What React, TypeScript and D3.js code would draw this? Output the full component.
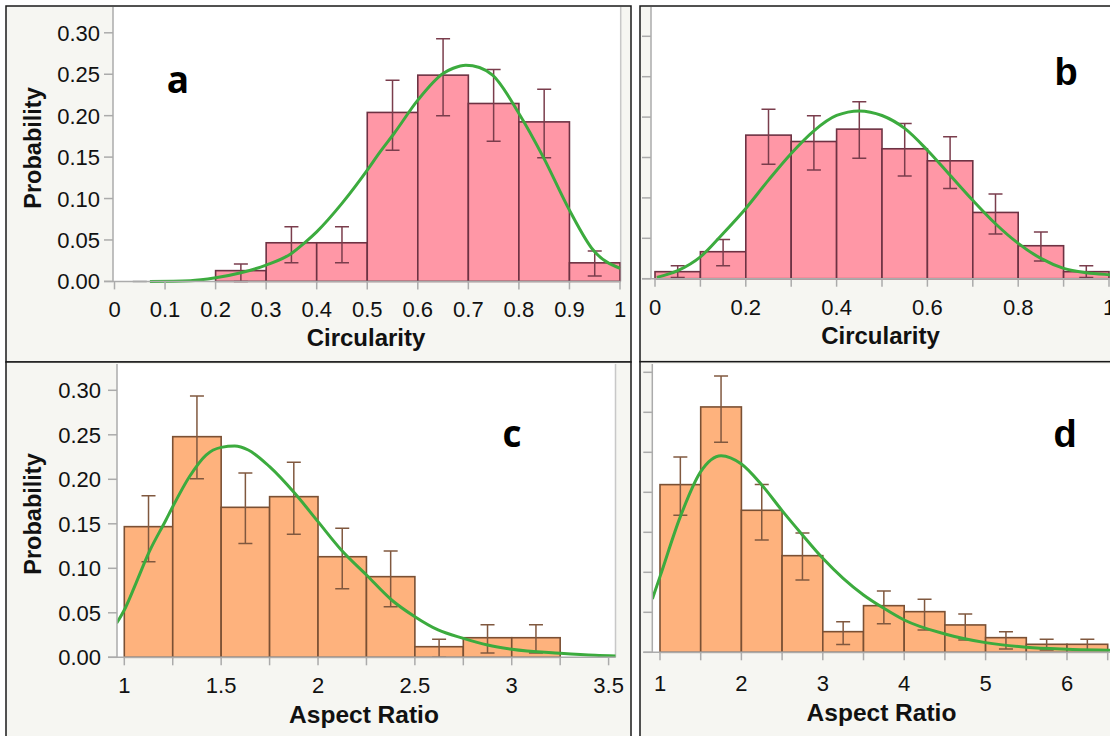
import React from 'react';
import * as d3 from 'd3';

const FONT = '"Liberation Sans", Arial, Helvetica, sans-serif';
const LETTER_FONT_AC = '"Open Sans", "Liberation Sans", Arial, sans-serif';

// ---------- Panel a : Circularity ----------
const aBinStarts = [0, 0.1, 0.2, 0.3, 0.4, 0.5, 0.6, 0.7, 0.8, 0.9];
const aProb = [0, 0, 0.013, 0.0466, 0.0466, 0.2039, 0.2489, 0.2147, 0.1925, 0.0224];
const aErrHi = [0, null, 0.0209, 0.0659, 0.0659, 0.2428, 0.2928, 0.2557, 0.232, 0.0366];
const aErrLo = [0, null, 0, 0.0225, 0.0225, 0.1584, 0.1998, 0.1692, 0.1491, 0.0064];
const aFitX = [0.07, 0.15, 0.2, 0.25, 0.3, 0.35, 0.376, 0.4, 0.45, 0.5, 0.525, 0.553, 0.6, 0.65, 0.67, 0.695, 0.722, 0.748, 0.8, 0.848, 0.9, 0.947, 1.0];
const aFitY = [0, 0.0008, 0.0043, 0.0104, 0.0197, 0.0338, 0.0466, 0.0598, 0.0941, 0.1342, 0.156, 0.1785, 0.2187, 0.2509, 0.2572, 0.2609, 0.2581, 0.2489, 0.2027, 0.1503, 0.086, 0.0378, 0.0157];
const aXTicks = [0, 0.1, 0.2, 0.3, 0.4, 0.5, 0.6, 0.7, 0.8, 0.9, 1];
const aXLabels = ['0', '0.1', '0.2', '0.3', '0.4', '0.5', '0.6', '0.7', '0.8', '0.9', '1'];

// ---------- Panel b : Circularity ----------
const bBinStarts = [0, 0.1, 0.2, 0.3, 0.4, 0.5, 0.6, 0.7, 0.8, 0.9];
const bProb = [0.0087, 0.0334, 0.1777, 0.1698, 0.1851, 0.1608, 0.1459, 0.082, 0.0408, 0.0087];
const bErrHi = [0.016, 0.0486, 0.2098, 0.2016, 0.2189, 0.1921, 0.1756, 0.1047, 0.0577, 0.016];
const bErrLo = [0.0015, 0.016, 0.1418, 0.1344, 0.1492, 0.127, 0.1117, 0.0552, 0.0218, 0.0015];
const bFitX = [0.004, 0.05, 0.1, 0.15, 0.2, 0.25, 0.3, 0.35, 0.4, 0.45, 0.5, 0.55, 0.6, 0.65, 0.7, 0.75, 0.8, 0.85, 0.9, 0.95, 1.0, 1.03];
const bFitY = [0.0016, 0.0099, 0.027, 0.056, 0.087, 0.122, 0.155, 0.183, 0.202, 0.2077, 0.202, 0.186, 0.159, 0.128, 0.097, 0.068, 0.0437, 0.0251, 0.0128, 0.0074, 0.005, 0.004];
const bXTicks = [0, 0.1, 0.2, 0.3, 0.4, 0.5, 0.6, 0.7, 0.8, 0.9, 1];
const bXLabels = ['0', '', '0.2', '', '0.4', '', '0.6', '', '0.8', '', '1'];

// ---------- Panel c : Aspect Ratio ----------
const cBinStarts = [1.0, 1.25, 1.5, 1.75, 2.0, 2.25, 2.5, 2.75, 3.0];
const cProb = [0.1468, 0.2479, 0.1685, 0.1805, 0.113, 0.0906, 0.0119, 0.022, 0.022];
const cErrHi = [0.1816, 0.2936, 0.2071, 0.2191, 0.1449, 0.1194, 0.0202, 0.0366, 0.0366];
const cErrLo = [0.1074, 0.2007, 0.128, 0.1382, 0.0771, 0.0569, 0, 0.0048, 0.0048];
const cFitX = [0.96, 1.0, 1.06, 1.129, 1.215, 1.25, 1.336, 1.422, 1.5, 1.57, 1.64, 1.75, 1.88, 2.0, 2.12, 2.25, 2.38, 2.5, 2.62, 2.75, 2.875, 3.0, 3.25, 3.43, 3.55];
const cFitY = [0.0382, 0.0531, 0.0831, 0.1187, 0.1543, 0.1692, 0.2029, 0.2273, 0.2359, 0.2374, 0.2329, 0.2142, 0.1843, 0.1524, 0.1206, 0.0925, 0.0644, 0.0456, 0.0307, 0.0213, 0.0138, 0.009, 0.0045, 0.0022, 0.0015];
const cXTicks = [1, 1.25, 1.5, 1.75, 2, 2.25, 2.5, 2.75, 3, 3.25, 3.5];
const cXLabels = ['1', '', '1.5', '', '2', '', '2.5', '', '3', '', '3.5'];

// ---------- Panel d : Aspect Ratio ----------
const dBinStarts = [1.0, 1.5, 2.0, 2.5, 3.0, 3.5, 4.0, 4.5, 5.0, 5.5, 6.0];
const dProb = [0.2096, 0.3067, 0.1775, 0.1208, 0.0258, 0.0583, 0.0508, 0.0342, 0.0183, 0.01, 0.01];
const dErrHi = [0.2442, 0.3454, 0.2096, 0.1492, 0.0383, 0.0767, 0.0663, 0.0479, 0.0258, 0.0163, 0.0163];
const dErrLo = [0.1713, 0.2625, 0.1404, 0.0904, 0.0096, 0.0358, 0.0279, 0.0154, 0.0042, 0.003, 0.003];
const dFitX = [0.906, 1.0, 1.25, 1.5, 1.75, 2.0, 2.25, 2.5, 2.75, 3.0, 3.25, 3.5, 3.75, 4.0, 4.5, 5.0, 5.5, 6.0, 6.5, 7.0];
const dFitY = [0.0667, 0.0946, 0.1696, 0.2258, 0.2458, 0.2354, 0.2092, 0.1771, 0.1467, 0.1175, 0.0925, 0.0717, 0.055, 0.0404, 0.0229, 0.0121, 0.0063, 0.0038, 0.0025, 0.0015];
const dXTicks = [1, 1.5, 2, 2.5, 3, 3.5, 4, 4.5, 5, 5.5, 6, 6.5];
const dXLabels = ['1', '', '2', '', '3', '', '4', '', '5', '', '6', ''];

const probTicks = [0, 0.05, 0.1, 0.15, 0.2, 0.25, 0.3];
const probTicksD = [0, 0.05, 0.1, 0.15, 0.2, 0.25, 0.3, 0.35];

const PINK = { fill: '#ff97a6', stroke: '#6d3243', err: '#7a3d4c' };
const ORANGE = { fill: '#feb27d', stroke: '#7a5034', err: '#80583f' };
const GREEN = '#3cab3e';
const PANEL_BG = '#f6f6f2';
const AXIS = '#ababab';

type Spec = {
  id: string;
  frame: [number, number, number, number];
  plot: [number, number, number, number];
  xDomain: [number, number];
  xRange: [number, number];
  yDomain: [number, number];
  yRange: [number, number];
  binStarts: number[];
  binWidth: number;
  prob: number[];
  errHi: (number | null)[];
  errLo: (number | null)[];
  fitX: number[];
  fitY: number[];
  xTicks: number[];
  xLabels: string[];
  yTicks: number[];
  showYLabels: boolean;
  yLabelRight: number;
  xLabelBaseline: number;
  xTitle: string;
  xTitleX: number;
  xTitleBaseline: number;
  xTitleSize: number;
  yTitleCenter: number;
  color: { fill: string; stroke: string; err: string };
  letter: string;
  letterX: number;
  letterY: number;
  letterFont: string;
  letterSize: number;
  showRightBorder: boolean;
};

function Panel({ s }: { s: Spec }) {
  const x = d3.scaleLinear().domain(s.xDomain).range(s.xRange);
  const y = d3.scaleLinear().domain(s.yDomain).range(s.yRange);
  const base = y(0);
  const [pl, pt, pr, pb] = s.plot;
  const [fl, ft, fr, fb] = s.frame;
  const line = d3
    .line<number>()
    .x((_d, i) => x(s.fitX[i]))
    .y((d) => y(d))
    .curve(d3.curveMonotoneX);
  const clipId = `clip-${s.id}`;
  const capHalf = 7;
  return (
    <g>
      <rect x={fl} y={ft} width={fr - fl} height={fb - ft} fill={PANEL_BG} stroke="#1a1a1a" strokeWidth={1.5} />
      <rect x={pl} y={pt} width={pr - pl} height={pb - pt} fill="#ffffff" />
      <defs>
        <clipPath id={clipId}>
          <rect x={pl} y={pt} width={pr - pl} height={pb - pt + 2} />
        </clipPath>
      </defs>
      {s.showRightBorder && <line x1={pr} x2={pr} y1={pt} y2={pb} stroke="#c8c8c8" strokeWidth={1.5} />}
      {s.yTicks.map((t) => (
        <g key={`yt${t}`}>
          <line x1={pl - 9} x2={pl} y1={y(t)} y2={y(t)} stroke={AXIS} strokeWidth={1.5} />
          {s.showYLabels && (
            <text x={s.yLabelRight} y={y(t) + 8} textAnchor="end" fontFamily={FONT} fontSize={22} fill="#111">
              {d3.format('.2f')(t)}
            </text>
          )}
        </g>
      ))}
      <g clipPath={`url(#${clipId})`}>
        {s.binStarts.map((b, i) =>
          s.prob[i] > 0 ? (
            <rect
              key={`bar${i}`}
              x={x(b)}
              y={y(s.prob[i])}
              width={x(b + s.binWidth) - x(b)}
              height={base - y(s.prob[i])}
              fill={s.color.fill}
              stroke={s.color.stroke}
              strokeWidth={1.6}
            />
          ) : null
        )}
        {s.binStarts.map((b, i) => {
          const hi = s.errHi[i];
          const lo = s.errLo[i];
          if (hi === null || lo === null) return null;
          const cx = x(b + s.binWidth / 2);
          const col = hi === 0 ? '#b5b5b5' : s.color.err;
          return (
            <g key={`err${i}`} stroke={col} strokeWidth={1.5}>
              <line x1={cx} x2={cx} y1={y(hi)} y2={y(lo)} />
              <line x1={cx - capHalf} x2={cx + capHalf} y1={y(hi)} y2={y(hi)} />
              <line x1={cx - capHalf} x2={cx + capHalf} y1={y(lo)} y2={y(lo)} />
            </g>
          );
        })}
        <path d={line(s.fitY) || ''} fill="none" stroke={GREEN} strokeWidth={3} />
      </g>
      <line x1={pl} x2={pl} y1={pt} y2={pb} stroke={AXIS} strokeWidth={1.5} />
      <line x1={pl - 9} x2={pr} y1={base} y2={base} stroke={AXIS} strokeWidth={1.5} />
      {s.xTicks.map((t, i) => (
        <g key={`xt${i}`}>
          <line x1={x(t)} x2={x(t)} y1={base} y2={base + 8} stroke={AXIS} strokeWidth={1.5} />
          {s.xLabels[i] !== '' && (
            <text x={x(t)} y={s.xLabelBaseline} textAnchor="middle" fontFamily={FONT} fontSize={22} fill="#111">
              {s.xLabels[i]}
            </text>
          )}
        </g>
      ))}
      <text x={s.xTitleX} y={s.xTitleBaseline} textAnchor="middle" fontFamily={FONT} fontWeight="bold" fontSize={s.xTitleSize} fill="#111">
        {s.xTitle}
      </text>
      {s.showYLabels && (
        <text
          transform={`translate(40.5, ${s.yTitleCenter}) rotate(-90)`}
          textAnchor="middle"
          fontFamily={FONT}
          fontWeight="bold"
          fontSize={23.5}
          fill="#111"
        >
          Probability
        </text>
      )}
      <text x={s.letterX} y={s.letterY} textAnchor="middle" fontFamily={s.letterFont} fontWeight="bold" fontSize={s.letterSize} fill="#000">
        {s.letter}
      </text>
    </g>
  );
}

const specs: Spec[] = [
  {
    id: 'a',
    frame: [6, 6, 631, 362],
    plot: [113, 7, 620.7, 281.4],
    xDomain: [0, 1],
    xRange: [114.5, 620],
    yDomain: [0, 0.3],
    yRange: [281.4, 32.8],
    binStarts: aBinStarts,
    binWidth: 0.1,
    prob: aProb,
    errHi: aErrHi,
    errLo: aErrLo,
    fitX: aFitX,
    fitY: aFitY,
    xTicks: aXTicks,
    xLabels: aXLabels,
    yTicks: probTicks,
    showYLabels: true,
    yLabelRight: 100,
    xLabelBaseline: 317,
    xTitle: 'Circularity',
    xTitleX: 366,
    xTitleBaseline: 346,
    xTitleSize: 24,
    yTitleCenter: 148,
    color: PINK,
    letter: 'a',
    letterX: 178,
    letterY: 92.5,
    letterFont: LETTER_FONT_AC,
    letterSize: 37,
    showRightBorder: true,
  },
  {
    id: 'b',
    frame: [640, 6, 1125, 361.7],
    plot: [651, 7, 1120, 278.7],
    xDomain: [0, 1],
    xRange: [655, 1109],
    yDomain: [0, 0.3],
    yRange: [278.7, 36.3],
    binStarts: bBinStarts,
    binWidth: 0.1,
    prob: bProb,
    errHi: bErrHi,
    errLo: bErrLo,
    fitX: bFitX,
    fitY: bFitY,
    xTicks: bXTicks,
    xLabels: bXLabels,
    yTicks: probTicks,
    showYLabels: false,
    yLabelRight: 0,
    xLabelBaseline: 315,
    xTitle: 'Circularity',
    xTitleX: 880.5,
    xTitleBaseline: 344,
    xTitleSize: 24,
    yTitleCenter: 148,
    color: PINK,
    letter: 'b',
    letterX: 1066,
    letterY: 85,
    letterFont: FONT,
    letterSize: 38,
    showRightBorder: false,
  },
  {
    id: 'c',
    frame: [6, 362, 631, 745],
    plot: [117, 364, 615.5, 657.3],
    xDomain: [1, 3.5],
    xRange: [124.3, 608.6],
    yDomain: [0, 0.3],
    yRange: [657.3, 390.3],
    binStarts: cBinStarts,
    binWidth: 0.25,
    prob: cProb,
    errHi: cErrHi,
    errLo: cErrLo,
    fitX: cFitX,
    fitY: cFitY,
    xTicks: cXTicks,
    xLabels: cXLabels,
    yTicks: probTicks,
    showYLabels: true,
    yLabelRight: 101,
    xLabelBaseline: 693,
    xTitle: 'Aspect Ratio',
    xTitleX: 364,
    xTitleBaseline: 723,
    xTitleSize: 24.5,
    yTitleCenter: 514,
    color: ORANGE,
    letter: 'c',
    letterX: 512,
    letterY: 446.5,
    letterFont: LETTER_FONT_AC,
    letterSize: 37,
    showRightBorder: true,
  },
  {
    id: 'd',
    frame: [640, 361.7, 1125, 745],
    plot: [652.3, 364, 1120, 652.3],
    xDomain: [1, 6],
    xRange: [660, 1067],
    yDomain: [0, 0.35],
    yRange: [652.3, 372.3],
    binStarts: dBinStarts,
    binWidth: 0.5,
    prob: dProb,
    errHi: dErrHi,
    errLo: dErrLo,
    fitX: dFitX,
    fitY: dFitY,
    xTicks: dXTicks,
    xLabels: dXLabels,
    yTicks: probTicksD,
    showYLabels: false,
    yLabelRight: 0,
    xLabelBaseline: 690.5,
    xTitle: 'Aspect Ratio',
    xTitleX: 881.5,
    xTitleBaseline: 721,
    xTitleSize: 24.5,
    yTitleCenter: 514,
    color: ORANGE,
    letter: 'd',
    letterX: 1065,
    letterY: 446.5,
    letterFont: FONT,
    letterSize: 38,
    showRightBorder: false,
  },
];

export default function App() {
  return (
    <svg
      width={1110}
      height={736}
      viewBox="0 0 1110 736"
      style={{ position: 'absolute', left: 0, top: 0, background: '#ffffff' }}
    >
      <rect x={0} y={0} width={1110} height={736} fill="#ffffff" />
      {specs.map((s) => (
        <Panel key={s.id} s={s} />
      ))}
    </svg>
  );
}
